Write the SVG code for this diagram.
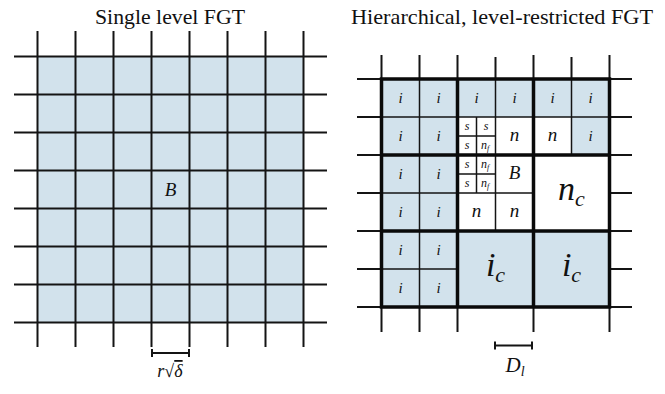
<svg xmlns="http://www.w3.org/2000/svg" width="665" height="394" viewBox="0 0 665 394">
<style>
.bg{fill:#ffffff}
.fill{fill:#d2e2ec}
.ln{stroke:#141414;stroke-width:2;fill:none}
.thin{stroke:#141414;stroke-width:1.5;fill:none}
.thk{stroke:#0a0a0a;stroke-width:3.5;fill:none}
.t{font-family:"Liberation Serif","Times New Roman",serif;fill:#111}
.m{font-family:"Liberation Serif","Times New Roman",serif;font-style:italic;fill:#111;text-anchor:middle}
.mi{font-size:15px}
.mn{font-size:19px}
.ms{font-size:12px}
.mc{font-size:34px}
</style>
<rect class="bg" x="0" y="0" width="665" height="394"/>

<!-- Left: single level FGT -->
<text class="t" x="170" y="24" font-size="21" text-anchor="middle" textLength="150" lengthAdjust="spacingAndGlyphs">Single level FGT</text>
<g id="left-grid">
  <rect class="fill" x="37.5" y="56.5" width="266" height="266"/>
  <g class="ln">
    <path d="M37.5 31V347M75.5 31V347M113.5 31V347M151.5 31V347M189.5 31V347M227.5 31V347M265.5 31V347M303.5 31V347"/>
    <path d="M14 56.5H327M14 94.5H327M14 132.5H327M14 170.5H327M14 208.5H327M14 246.5H327M14 284.5H327M14 322.5H327"/>
  </g>
</g>
<g id="left-B"><text class="m mn" x="170.5" y="196">B</text></g>
<g id="left-scale">
  <path class="ln" d="M152 353H189M152 349V357M189 349V357"/>
  <text class="m" x="170" y="377" font-size="18">r√<tspan text-decoration="overline">δ</tspan></text>
</g>

<!-- Right: hierarchical FGT -->
<text class="t" x="502" y="24" font-size="21" text-anchor="middle" textLength="302" lengthAdjust="spacingAndGlyphs">Hierarchical, level-restricted FGT</text>
<g id="right-grid">
  <g class="ln">
    <path d="M381.5 55V79M419.5 55V79M457.5 55V79M495.5 57V79M533.5 55V79M571.5 57V79M609.5 55V79"/>
    <path d="M381.5 307V332M419.5 307V332M457.5 307V332M533.5 307V332M609.5 307V332"/>
    <path d="M357 79H381.5M357 117H381.5M357 155H381.5M357 193H381.5M357 231H381.5M357 269H381.5M357 307H381.5"/>
    <path d="M609.5 79H632M609.5 117H632M609.5 155H632M609.5 193H632M609.5 231H632M609.5 269H632M609.5 307H632"/>
  </g>
  <rect class="fill" x="381.5" y="79" width="228" height="38"/>
  <rect class="fill" x="381.5" y="117" width="76" height="190"/>
  <rect class="fill" x="571.5" y="117" width="38" height="38"/>
  <rect class="fill" x="457.5" y="231" width="152" height="76"/>
  <g class="thin">
    <path d="M419.5 79V231M381.5 117H457.5M381.5 193H457.5M419.5 231V307M381.5 269H457.5"/>
    <path d="M495.5 79V155M457.5 117H533.5M571.5 79V155M533.5 117H609.5"/>
    <path d="M495.5 155V231M457.5 193H533.5"/>
    <path d="M476.5 117V193M457.5 136H495.5M457.5 174H495.5"/>
  </g>
  <g class="thk">
    <rect x="381.5" y="79" width="228" height="228"/>
    <path d="M457.5 79V307M533.5 79V307M381.5 155H609.5M381.5 231H609.5"/>
  </g>
</g>
<g id="cells-i">
  <text class="m mi" x="400.5" y="103">i</text><text class="m mi" x="438.5" y="103">i</text>
  <text class="m mi" x="476.5" y="103">i</text><text class="m mi" x="514.5" y="103">i</text>
  <text class="m mi" x="552.5" y="103">i</text><text class="m mi" x="590.5" y="103">i</text>
  <text class="m mi" x="400.5" y="141">i</text><text class="m mi" x="438.5" y="141">i</text>
  <text class="m mi" x="590.5" y="141">i</text>
  <text class="m mi" x="400.5" y="179">i</text><text class="m mi" x="438.5" y="179">i</text>
  <text class="m mi" x="400.5" y="217">i</text><text class="m mi" x="438.5" y="217">i</text>
  <text class="m mi" x="400.5" y="255">i</text><text class="m mi" x="438.5" y="255">i</text>
  <text class="m mi" x="400.5" y="293">i</text><text class="m mi" x="438.5" y="293">i</text>
</g>
<g id="cells-n">
  <text class="m mn" x="514.5" y="141">n</text>
  <text class="m mn" x="552.5" y="141">n</text>
  <text class="m mn" x="476.5" y="217">n</text>
  <text class="m mn" x="514.5" y="217">n</text>
</g>
<g id="cell-B"><text class="m mn" x="514.5" y="179">B</text></g>
<g id="cells-s">
  <text class="m ms" x="467" y="130">s</text><text class="m ms" x="486" y="130">s</text>
  <text class="m ms" x="467" y="149">s</text><text class="m ms" x="485" y="149">n<tspan font-size="8" dy="2">f</tspan></text>
  <text class="m ms" x="467" y="168">s</text><text class="m ms" x="485" y="168">n<tspan font-size="8" dy="2">f</tspan></text>
  <text class="m ms" x="467" y="187">s</text><text class="m ms" x="485" y="187">n<tspan font-size="8" dy="2">f</tspan></text>
</g>
<g id="cell-nc"><text class="m mc" x="571.5" y="200">n<tspan font-size="22" dy="6">c</tspan></text></g>
<g id="cell-ic1"><text class="m mc" x="495.5" y="276">i<tspan font-size="22" dy="6">c</tspan></text></g>
<g id="cell-ic2"><text class="m mc" x="571.5" y="276">i<tspan font-size="22" dy="6">c</tspan></text></g>
<g id="right-scale">
  <path class="ln" d="M495 345.5H532M495 341.5V349.5M532 341.5V349.5"/>
  <text class="m" x="515" y="372" font-size="21">D<tspan font-size="14" dy="4">l</tspan></text>
</g>
</svg>
